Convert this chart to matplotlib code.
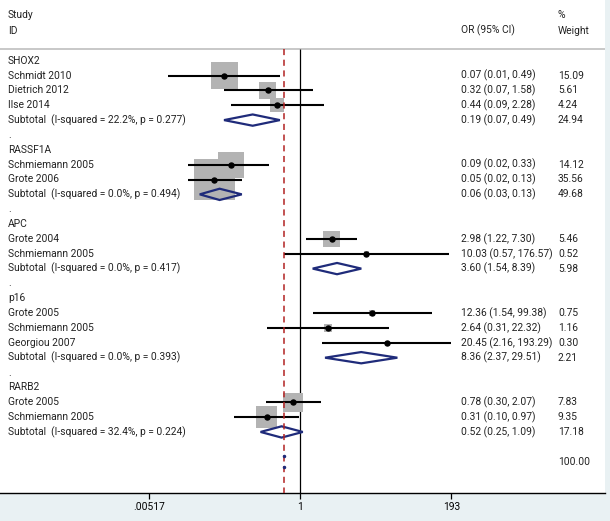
import matplotlib
matplotlib.use("Agg")
import matplotlib.pyplot as plt
from matplotlib.patches import Polygon
from matplotlib.ticker import NullLocator, FixedLocator, FixedFormatter
import numpy as np

plt.rcParams['font.family'] = 'Roboto'

nan = float('nan')

labels = ["SHOX2", "Schmidt 2010", "Dietrich 2012", "Ilse 2014",
          "Subtotal  (I-squared = 22.2%, p = 0.277)", ".",
          "RASSF1A", "Schmiemann 2005", "Grote 2006",
          "Subtotal  (I-squared = 0.0%, p = 0.494)", ".",
          "APC", "Grote 2004", "Schmiemann 2005",
          "Subtotal  (I-squared = 0.0%, p = 0.417)", ".",
          "p16", "Grote 2005", "Schmiemann 2005", "Georgiou 2007",
          "Subtotal  (I-squared = 0.0%, p = 0.393)", ".",
          "RARB2", "Grote 2005", "Schmiemann 2005",
          "Subtotal  (I-squared = 32.4%, p = 0.224)"]
kinds = ["g", "s", "s", "s", "d", ".",
         "g", "s", "s", "d", ".",
         "g", "s", "s", "d", ".",
         "g", "s", "s", "s", "d", ".",
         "g", "s", "s", "d"]
or_est = [nan, 0.07, 0.32, 0.44, 0.19, nan,
          nan, 0.09, 0.05, 0.06, nan,
          nan, 2.98, 10.03, 3.60, nan,
          nan, 12.36, 2.64, 20.45, 8.36, nan,
          nan, 0.78, 0.31, 0.52]
ci_low = [nan, 0.01, 0.07, 0.09, 0.07, nan,
          nan, 0.02, 0.02, 0.03, nan,
          nan, 1.22, 0.57, 1.54, nan,
          nan, 1.54, 0.31, 2.16, 2.37, nan,
          nan, 0.30, 0.10, 0.25]
ci_high = [nan, 0.49, 1.58, 2.28, 0.49, nan,
           nan, 0.33, 0.13, 0.13, nan,
           nan, 7.30, 176.57, 8.39, nan,
           nan, 99.38, 22.32, 193.29, 29.51, nan,
           nan, 2.07, 0.97, 1.09]
weights = [nan, 15.09, 5.61, 4.24, 24.94, nan,
           nan, 14.12, 35.56, 49.68, nan,
           nan, 5.46, 0.52, 5.98, nan,
           nan, 0.75, 1.16, 0.30, 2.21, nan,
           nan, 7.83, 9.35, 17.18]
overall_or = 0.573
overall_weight = 100.00
tick_vals = [0.00517, 1, 193]
tick_labels = [".00517", "1", "193"]

W, H = 610, 521
fig = plt.figure(figsize=(W / 100, H / 100), dpi=100, facecolor="#e9f1f3")
axis_y = 492.7
ax = fig.add_axes([0, (H - axis_y) / H, 605 / W, axis_y / H])
ax.set_facecolor("white")

px_per_dec = 66.04
x1 = 300.3
ax.set_xscale("log")
ax.set_xlim(10 ** ((0 - x1) / px_per_dec), 10 ** ((605 - x1) / px_per_dec))
row0 = 60.7
step = 14.85
ax.set_ylim((axis_y - row0) / step, (0 - row0) / step)
ybot = (axis_y - row0) / step

for s in ["top", "left", "right"]:
    ax.spines[s].set_visible(False)
ax.spines["bottom"].set_linewidth(1.0)
ax.spines["bottom"].set_color("black")
ax.yaxis.set_major_locator(NullLocator())
ax.xaxis.set_minor_locator(NullLocator())
ax.xaxis.set_major_locator(FixedLocator(tick_vals))
ax.xaxis.set_major_formatter(FixedFormatter(tick_labels))
ax.tick_params(axis="x", length=4.3, width=0.9, pad=2.5, labelsize=7.4, colors="black")

txt = ax.get_yaxis_transform()
tc = "#222222"
fs = 7.4
sep_r = (49.3 - row0) / step
r_hdr1 = (15.5 - row0) / step
r_hdr2 = (30.7 - row0) / step

# header
ax.text(8 / 605, r_hdr1, "Study", transform=txt, fontsize=fs, va="center", color=tc)
ax.text(8 / 605, r_hdr2, "ID", transform=txt, fontsize=fs, va="center", color=tc)
ax.text(461 / 605, r_hdr2, "OR (95% CI)", transform=txt, fontsize=fs, va="center", color=tc)
ax.text(558 / 605, r_hdr1, "%", transform=txt, fontsize=fs, va="center", color=tc)
ax.text(558 / 605, r_hdr2, "Weight", transform=txt, fontsize=fs, va="center", color=tc)
ax.plot([0, 1], [sep_r, sep_r], transform=txt, color="#c4c4c4", lw=1.3, zorder=1)

# reference lines
ax.vlines(1, sep_r, ybot, color="black", lw=0.9, zorder=2)
ax.vlines(overall_or, sep_r, ybot, color="#b22222", lw=1.1, linestyles=(0, (4, 3)), zorder=5)

rows = np.arange(len(labels))
sq_color = "#b3b3b3"
navy = "#1f2b7a"
h = 0.38
for r, lab, k, e, lo, hi, w in zip(rows, labels, kinds, or_est, ci_low, ci_high, weights):
    ax.text(8 / 605, r, lab, transform=txt, fontsize=fs, va="center", color=tc)
    if k in ("s", "d"):
        ax.text(461 / 605, r, f"{e:.2f} ({lo:.2f}, {hi:.2f})", transform=txt,
                fontsize=fs, va="center", color=tc)
        ax.text(558 / 605, r, f"{w:.2f}", transform=txt, fontsize=fs, va="center", color=tc)
    if k == "s":
        side_px = 6.95 * np.sqrt(w)
        ax.scatter([e], [r], s=(side_px * 0.72) ** 2, marker="s", color=sq_color,
                   edgecolors="none", zorder=3)
    elif k == "d":
        poly = Polygon([(lo, r), (e, r - h), (hi, r), (e, r + h)], closed=True,
                       fill=False, edgecolor=navy, lw=1.6, zorder=4)
        ax.add_patch(poly)

for r, k, e, lo, hi in zip(rows, kinds, or_est, ci_low, ci_high):
    if k == "s":
        ax.hlines(r, lo, hi, color="black", lw=1.5, zorder=4)
        ax.plot([e], [r], "o", color="black", ms=3.6, zorder=6)

# overall row (label hidden in the original)
r_ov = len(labels) + 1
ax.text(558 / 605, r_ov, f"{overall_weight:.2f}", transform=txt, fontsize=fs, va="center", color=tc)
ax.plot([overall_or, overall_or], [r_ov - 0.37, r_ov + 0.37], "o", color=navy, ms=1.5, zorder=6)

fig.savefig("out.png", dpi=100, facecolor=fig.get_facecolor())
